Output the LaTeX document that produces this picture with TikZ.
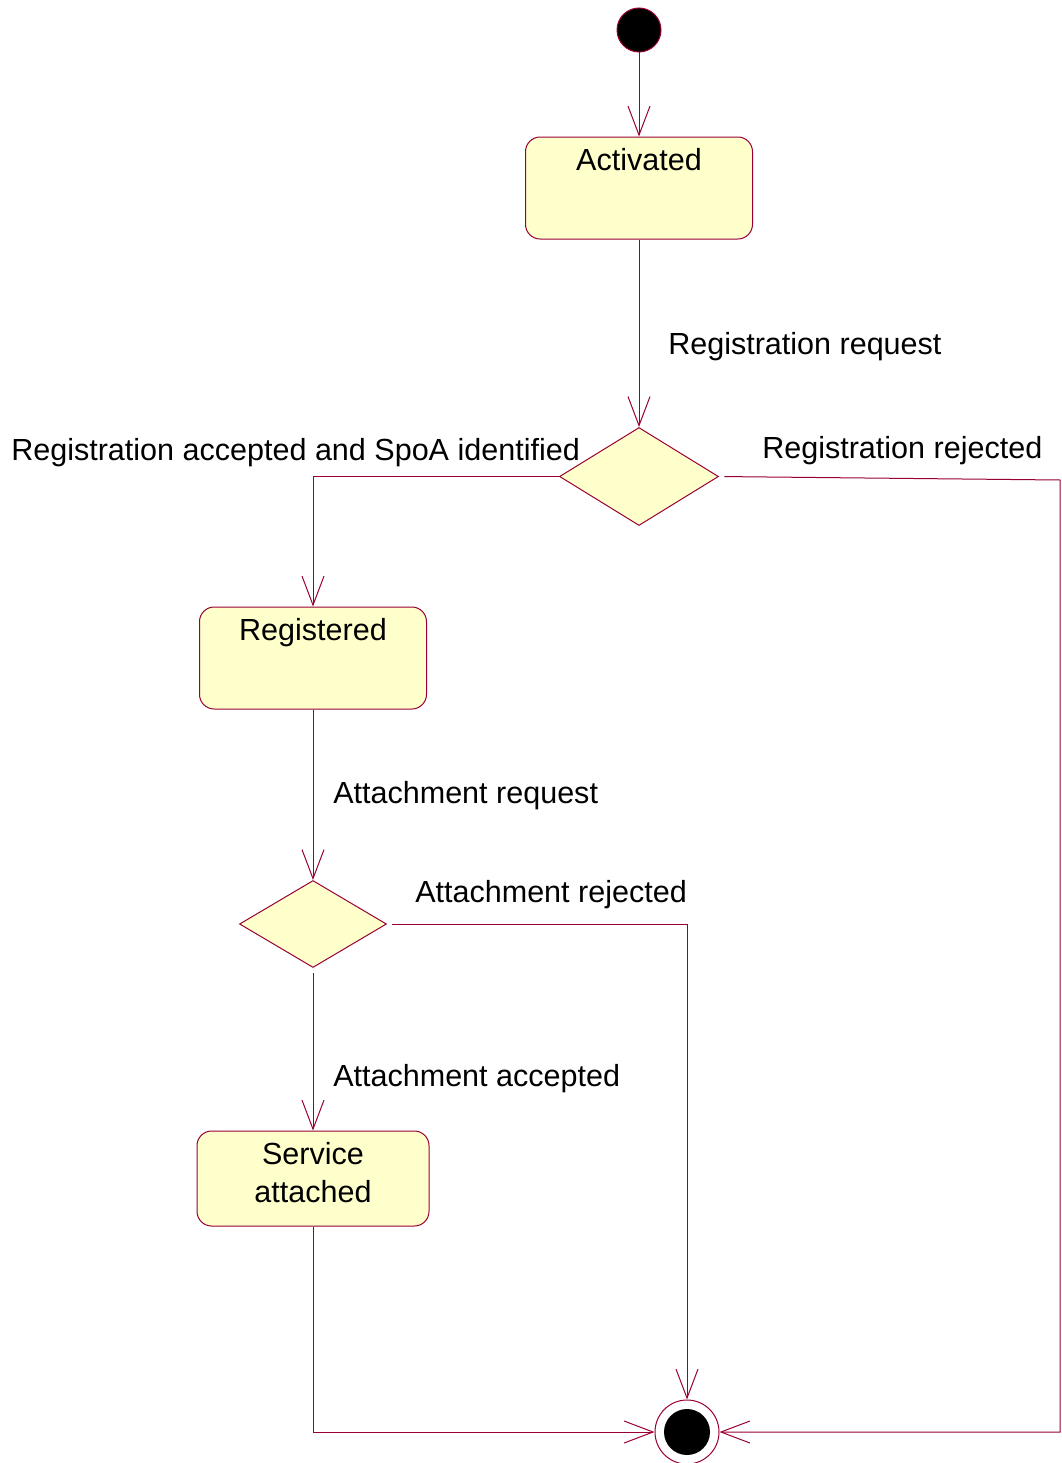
\documentclass[tikz,border=0pt]{standalone}
\usepackage{fontspec}
\setmainfont{Liberation Sans}
\usetikzlibrary{arrows.meta,shapes.geometric}
\definecolor{umlline}{RGB}{153,0,51}
\definecolor{umlfill}{RGB}{255,255,204}
\begin{document}
\begin{tikzpicture}[x=0.75pt,y=-0.75pt,
  font=\fontsize{22.9}{28.5}\selectfont,
  statebox/.style={draw=umlline,fill=umlfill,line width=0.75pt,rounded corners=11pt,
    minimum width=170.25pt,minimum height=76.5pt,inner sep=0pt,
    text height=16pt,text depth=43pt},
  svcbox/.style={draw=umlline,fill=umlfill,line width=0.75pt,rounded corners=11pt,
    minimum width=174pt,minimum height=71.25pt,inner sep=0pt,align=center,text depth=9pt},
  choice/.style={diamond,draw=umlline,fill=umlfill,line width=0.75pt,inner sep=0pt},
  flow/.style={draw=umlline,line width=0.75pt,
    -{Straight Barb[length=21.75pt,width=16.5pt,line width=0.75pt]}},
  lbl/.style={anchor=base west,inner sep=0pt}]
\useasboundingbox (0,0) rectangle (1061,1463);

% start and end markers
\node[circle,draw=umlline,fill=black,line width=0.75pt,minimum size=33pt,inner sep=0pt] (start) at (639,30) {};
\node[circle,draw=umlline,fill=white,line width=0.75pt,minimum size=48pt,inner sep=0pt] (end) at (687,1432) {};
\fill (end.center) circle[radius=23];

% states
\node[statebox] (act) at (639,188) {Activated};
\node[statebox] (reg) at (313,658) {Registered};
\node[svcbox] (svc) at (313,1178.5) {Service\\attached};

% decisions
\node[choice,minimum width=119.25pt,minimum height=73.5pt] (d1) at (639,476.5) {};
\node[choice,minimum width=110.25pt,minimum height=65.25pt] (d2) at (313,924) {};

\coordinate (rr) at (1060,480);

% transitions
\draw[flow] (start) -- (act);
\draw[flow] (act) -- (d1);
\draw[flow] (d1.west) -| (reg.north);
\draw[flow,shorten <=4pt] (d1.east) -- (rr) |- (end.east);
\draw[flow] (reg) -- (d2);
\draw[flow,shorten <=4pt] (d2.east) -| (end.north);
\draw[flow,shorten <=4pt] (d2.south) -- (svc.north);
\draw[flow] (svc.south) |- (end.west);

% transition labels
\node[lbl] (l1) at (668,354) {Registration request};
\node[lbl] (l2) at (11,460) {Registration accepted and SpoA identified};
\node[lbl] (l3) at (762,458) {Registration rejected};
\node[lbl] (l4) at (333,803) {Attachment request};
\node[lbl] (l5) at (415,902) {Attachment rejected};
\node[lbl] (l6) at (333,1086) {Attachment accepted};
\end{tikzpicture}
\end{document}
